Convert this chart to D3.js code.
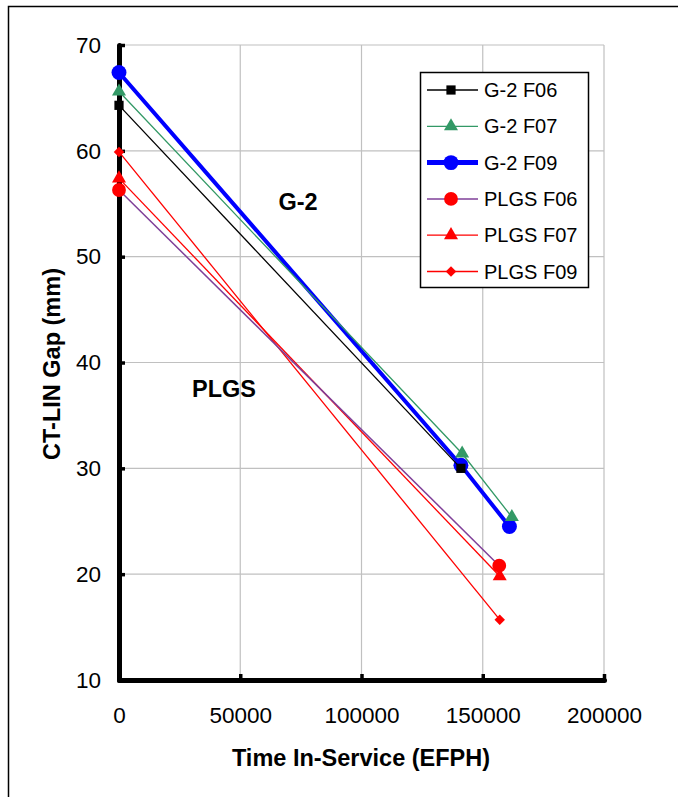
<!DOCTYPE html>
<html>
<head>
<meta charset="utf-8">
<script src="https://cdn.jsdelivr.net/npm/d3@7"></script>
<style>
	body { margin: 0; background: #fff; }
	svg { display: block; font-family: "Liberation Sans", Arial, sans-serif; }
	.c-gap__title { font-size: 23.5px; font-weight: bold; }
	.c-gap__legend text { font-size: 20px; }
</style>
</head>
<body>
<svg id="chart" width="678" height="797"></svg>
<script>
// data
var seriesNames = ["G-2 F06", "G-2 F07", "G-2 F09", "PLGS F06", "PLGS F07", "PLGS F09"];
var g2F06 = [[0, 64.3], [141000, 30.0]];
var g2F07 = [[0, 65.6], [141500, 31.4], [162000, 25.4]];
var g2F09 = [[0, 67.4], [141000, 30.3], [161000, 24.5]];
var plgsF06 = [[0, 56.3], [156800, 20.8]];
var plgsF07 = [[0, 57.4], [157000, 19.8]];
var plgsF09 = [[0, 59.9], [157000, 15.7]];
var xTicks = [0, 50000, 100000, 150000, 200000];
var yTicks = [10, 20, 30, 40, 50, 60, 70];

var prefix = "c-gap";
var svg = d3.select("#chart");

// outer frame
svg.append("rect")
	.attr("x", 8.5).attr("y", 6.5)
	.attr("width", 720).attr("height", 820)
	.attr("fill", "none").attr("stroke", "#000").attr("stroke-width", 1.5);

var margin = {top: 45, left: 119, right: 74, bottom: 117};
var width = 678, height = 797;

var xScale = d3.scaleLinear().domain([0, 200000]).range([margin.left, width - margin.right]);
var yScale = d3.scaleLinear().domain([10, 70]).range([height - margin.bottom, margin.top]);

// gridlines
var grid = svg.append("g").attr("class", prefix + "__grid");
grid.selectAll(".v").data(xTicks.slice(1)).enter().append("line")
	.attr("x1", function(d){ return xScale(d); }).attr("x2", function(d){ return xScale(d); })
	.attr("y1", yScale(10)).attr("y2", yScale(70))
	.attr("stroke", "#c0c0c0").attr("stroke-width", 1.2);
grid.selectAll(".h").data(yTicks.slice(1)).enter().append("line")
	.attr("x1", xScale(0)).attr("x2", xScale(200000))
	.attr("y1", function(d){ return yScale(d); }).attr("y2", function(d){ return yScale(d); })
	.attr("stroke", "#c0c0c0").attr("stroke-width", 1.2);

// axes
var yAxis = d3.axisLeft(yScale).tickValues(yTicks).tickSize(-6).tickSizeOuter(0).tickPadding(18);
var xAxis = d3.axisBottom(xScale).tickValues(xTicks).tickSize(-6).tickSizeOuter(0).tickPadding(27)
	.tickFormat(d3.format("d"));

var gy = svg.append("g")
	.attr("transform", "translate(" + xScale(0) + ",0)")
	.call(yAxis);
var gx = svg.append("g")
	.attr("transform", "translate(0," + yScale(10) + ")")
	.call(xAxis);

[gx, gy].forEach(function(g){
	g.select(".domain").attr("stroke", "#000").attr("stroke-width", 5)
		.attr("stroke-linecap", "round");
	g.selectAll(".tick line").attr("stroke", "#000").attr("stroke-width", 3.5);
	g.selectAll("text").attr("font-family", "Liberation Sans, Arial, sans-serif")
		.attr("font-size", 22.5).attr("fill", "#000");
});

// series
var series = [
	{name: seriesNames[0], pts: g2F06, color: "#000", lw: 1.3, mark: "square", mcolor: "#000", size: 85},
	{name: seriesNames[1], pts: g2F07, color: "#339966", lw: 1.3, mark: "triangle", mcolor: "#339966", size: 85},
	{name: seriesNames[2], pts: g2F09, color: "#0000ff", lw: 4, mark: "circle", mcolor: "#0000ff", size: 175},
	{name: seriesNames[3], pts: plgsF06, color: "#7f3f98", lw: 1.5, mark: "circle", mcolor: "#ff0000", size: 150},
	{name: seriesNames[4], pts: plgsF07, color: "#ff0000", lw: 1.3, mark: "triangle", mcolor: "#ff0000", size: 85},
	{name: seriesNames[5], pts: plgsF09, color: "#ff0000", lw: 1.3, mark: "diamond", mcolor: "#ff0000", size: 55}
];
var shapes = {square: d3.symbolSquare, triangle: d3.symbolTriangle, circle: d3.symbolCircle, diamond: d3.symbolSquare};

function markTransform(s, x, y){
	return "translate(" + x + "," + y + ")" + (s.mark === "diamond" ? "rotate(45)" : "");
}

var line = d3.line()
	.x(function(d){ return xScale(d[0]); })
	.y(function(d){ return yScale(d[1]); });

var plot = svg.append("g").attr("class", prefix + "__series");
series.slice().reverse().forEach(function(s){
	plot.append("path")
		.attr("d", line(s.pts))
		.attr("fill", "none")
		.attr("stroke", s.color)
		.attr("stroke-width", s.lw);
	plot.selectAll(null).data(s.pts).enter().append("path")
		.attr("d", d3.symbol().type(shapes[s.mark]).size(s.size))
		.attr("transform", function(d){ return markTransform(s, xScale(d[0]), yScale(d[1])); })
		.attr("fill", s.mcolor);
});

// annotations
svg.append("text").attr("class", prefix + "__title")
	.attr("x", 298).attr("y", 210).attr("text-anchor", "middle").text("G-2");
svg.append("text").attr("class", prefix + "__title")
	.attr("x", 224).attr("y", 397).attr("text-anchor", "middle").text("PLGS");

// axis titles
svg.append("text").attr("class", prefix + "__title")
	.attr("text-anchor", "middle")
	.attr("transform", "translate(60,364)rotate(-90)")
	.text("CT-LIN Gap (mm)");
svg.append("text").attr("class", prefix + "__title")
	.attr("text-anchor", "middle")
	.attr("x", 361).attr("y", 766)
	.text("Time In-Service (EFPH)");

// legend
var legend = svg.append("g").attr("class", prefix + "__legend")
	.attr("transform", "translate(420,72)");
legend.append("rect")
	.attr("x", 0.5).attr("y", 0.5).attr("width", 168).attr("height", 215)
	.attr("fill", "#fff").attr("stroke", "#000").attr("stroke-width", 1.5);
series.forEach(function(s, i){
	var row = legend.append("g").attr("transform", "translate(0," + (18 + i * 36.3) + ")");
	row.append("line").attr("x1", 7).attr("x2", 58).attr("y1", 0).attr("y2", 0)
		.attr("stroke", s.color).attr("stroke-width", s.lw > 2 ? 5 : s.lw);
	row.append("path")
		.attr("d", d3.symbol().type(shapes[s.mark]).size(s.size))
		.attr("transform", markTransform(s, 31, 0))
		.attr("fill", s.mcolor);
	row.append("text").attr("x", 64).attr("y", 7).text(s.name);
});
</script>
</body>
</html>
